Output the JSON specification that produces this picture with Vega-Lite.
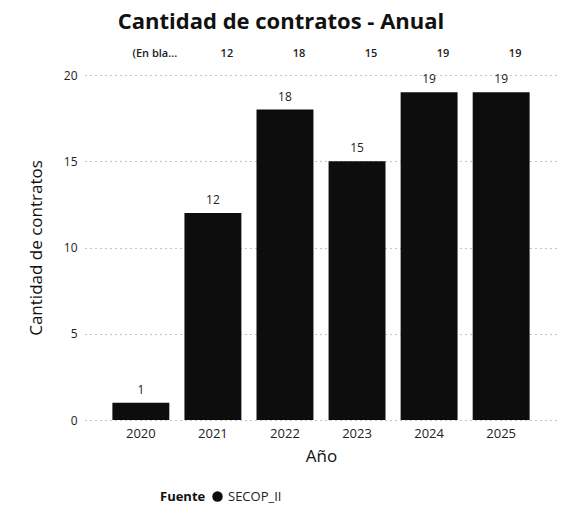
{
  "$schema": "https://vega.github.io/schema/vega-lite/v6.json",
  "autosize": "none",
  "width": 472,
  "height": 345,
  "padding": {"left": 85, "top": 75, "right": 6, "bottom": 101},
  "background": "white",
  "title": {
    "text": "Cantidad de contratos - Anual",
    "font": "Open Sans",
    "fontSize": 22,
    "fontWeight": "bold",
    "color": "#111111",
    "anchor": "middle",
    "dx": -40,
    "offset": 14
  },
  "data": {
    "values": [
      {"Año": "2020", "Cantidad": 1, "Fuente": "SECOP_II", "Encabezado": "(En bla..."},
      {"Año": "2021", "Cantidad": 12, "Fuente": "SECOP_II", "Encabezado": "12"},
      {"Año": "2022", "Cantidad": 18, "Fuente": "SECOP_II", "Encabezado": "18"},
      {"Año": "2023", "Cantidad": 15, "Fuente": "SECOP_II", "Encabezado": "15"},
      {"Año": "2024", "Cantidad": 19, "Fuente": "SECOP_II", "Encabezado": "19"},
      {"Año": "2025", "Cantidad": 19, "Fuente": "SECOP_II", "Encabezado": "19"}
    ]
  },
  "encoding": {
    "x": {
      "field": "Año",
      "type": "ordinal",
      "title": "Año",
      "scale": {"paddingInner": 0.21, "paddingOuter": 0.38},
      "axis": {
        "labelAngle": 0,
        "labelFont": "Open Sans",
        "labelFontSize": 13,
        "labelColor": "#222222",
        "labelPadding": 7,
        "titleFont": "Open Sans",
        "titleFontSize": 17,
        "titleFontWeight": "normal",
        "titleColor": "#111111",
        "titlePadding": 8,
        "domain": false,
        "ticks": false,
        "grid": false
      }
    }
  },
  "layer": [
    {
      "mark": {"type": "bar", "color": "#0d0d0d"},
      "encoding": {
        "y": {
          "field": "Cantidad",
          "type": "quantitative",
          "title": "Cantidad de contratos",
          "scale": {"domain": [0, 20], "nice": false},
          "axis": {
            "values": [0, 5, 10, 15, 20],
            "labelFont": "Open Sans",
            "labelFontSize": 12,
            "labelColor": "#222222",
            "labelPadding": 8,
            "titleFont": "Open Sans",
            "titleFontSize": 17,
            "titleFontWeight": "normal",
            "titleColor": "#111111",
            "titlePadding": 18,
            "domain": false,
            "ticks": false,
            "grid": true,
            "gridColor": "#888888",
            "gridDash": [1, 4],
            "gridWidth": 1
          }
        },
        "color": {
          "field": "Fuente",
          "type": "nominal",
          "scale": {"range": ["#0d0d0d"]},
          "legend": {
            "orient": "none",
            "legendX": 75,
            "legendY": 415,
            "direction": "horizontal",
            "title": "Fuente",
            "titleOrient": "left",
            "titleFont": "Open Sans",
            "titleFontSize": 13,
            "titleFontWeight": "bold",
            "titleColor": "#111111",
            "labelFont": "Open Sans",
            "labelFontSize": 13,
            "labelColor": "#222222",
            "symbolType": "circle",
            "symbolSize": 110,
            "symbolStrokeWidth": 0
          }
        }
      }
    },
    {
      "mark": {"type": "text", "baseline": "bottom", "dy": -6, "font": "Open Sans", "fontSize": 12, "color": "#222222"},
      "encoding": {
        "y": {"field": "Cantidad", "type": "quantitative"},
        "text": {"field": "Cantidad", "type": "quantitative"}
      }
    },
    {
      "mark": {"type": "text", "baseline": "middle", "dx": 14, "font": "Open Sans", "fontSize": 11, "fontWeight": 600, "color": "#222222"},
      "encoding": {
        "y": {"datum": 21.2, "type": "quantitative"},
        "text": {"field": "Encabezado", "type": "nominal"}
      }
    }
  ],
  "config": {
    "view": {"stroke": null}
  }
}
